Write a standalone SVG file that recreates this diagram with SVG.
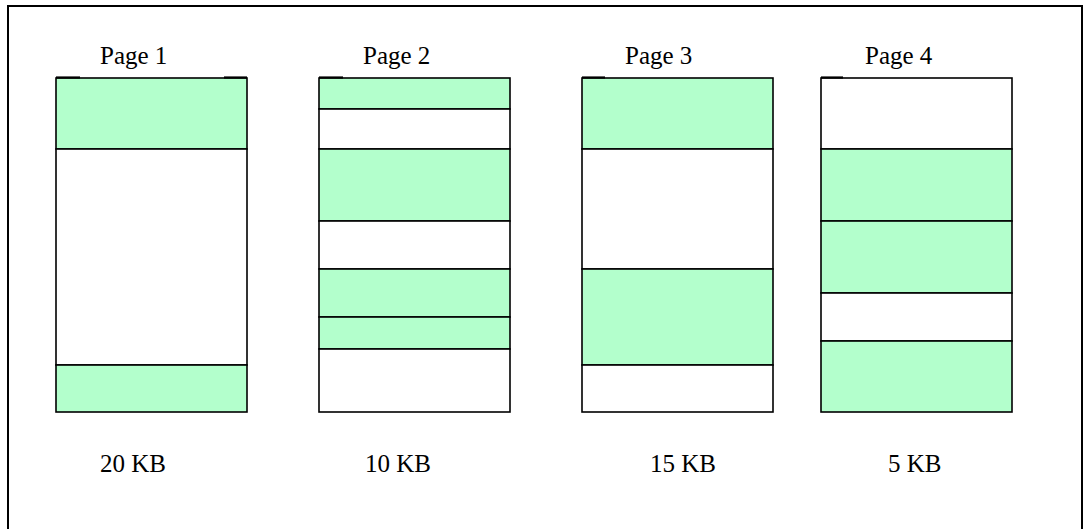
<svg xmlns="http://www.w3.org/2000/svg" width="1083" height="529" viewBox="0 0 1083 529">
<style>
.g{fill:#b3ffcc;stroke:#000;stroke-width:1.6}
.w{fill:#fff;stroke:#000;stroke-width:1.6}
.t{font-family:"Liberation Serif","Times New Roman",serif;font-size:25px;fill:#000}
.tick{stroke:#000;stroke-width:2.2}
</style>
<rect x="0" y="0" width="1083" height="529" fill="#fff"/>
<rect id="frame" x="8" y="6" width="1074" height="530" fill="none" stroke="#000" stroke-width="2"/>
<g id="page1">
<text class="t" x="100" y="64">Page 1</text>
<rect class="g" x="56" y="78" width="191" height="71"/>
<rect class="w" x="56" y="149" width="191" height="216"/>
<rect class="g" x="56" y="365" width="191" height="47"/>
<line class="tick" x1="56" y1="77.5" x2="80" y2="77.5"/>
<line class="tick" x1="224" y1="77.5" x2="247" y2="77.5"/>
<text class="t" x="100" y="472">20 KB</text>
</g>
<g id="page2">
<text class="t" x="363" y="64">Page 2</text>
<rect class="g" x="319" y="78" width="191" height="31"/>
<rect class="w" x="319" y="109" width="191" height="40"/>
<rect class="g" x="319" y="149" width="191" height="72"/>
<rect class="w" x="319" y="221" width="191" height="48"/>
<rect class="g" x="319" y="269" width="191" height="48"/>
<rect class="g" x="319" y="317" width="191" height="32"/>
<rect class="w" x="319" y="349" width="191" height="63"/>
<line class="tick" x1="319" y1="77.5" x2="343" y2="77.5"/>
<text class="t" x="365" y="472">10 KB</text>
</g>
<g id="page3">
<text class="t" x="625" y="64">Page 3</text>
<rect class="g" x="582" y="78" width="191" height="71"/>
<rect class="w" x="582" y="149" width="191" height="120"/>
<rect class="g" x="582" y="269" width="191" height="96"/>
<rect class="w" x="582" y="365" width="191" height="47"/>
<line class="tick" x1="582" y1="77.5" x2="605" y2="77.5"/>
<text class="t" x="650" y="472">15 KB</text>
</g>
<g id="page4">
<text class="t" x="865" y="64">Page 4</text>
<rect class="w" x="821" y="78" width="191" height="71"/>
<rect class="g" x="821" y="149" width="191" height="72"/>
<rect class="g" x="821" y="221" width="191" height="72"/>
<rect class="w" x="821" y="293" width="191" height="48"/>
<rect class="g" x="821" y="341" width="191" height="71"/>
<line class="tick" x1="821" y1="77.5" x2="843" y2="77.5"/>
<text class="t" x="888" y="472">5 KB</text>
</g>
</svg>
